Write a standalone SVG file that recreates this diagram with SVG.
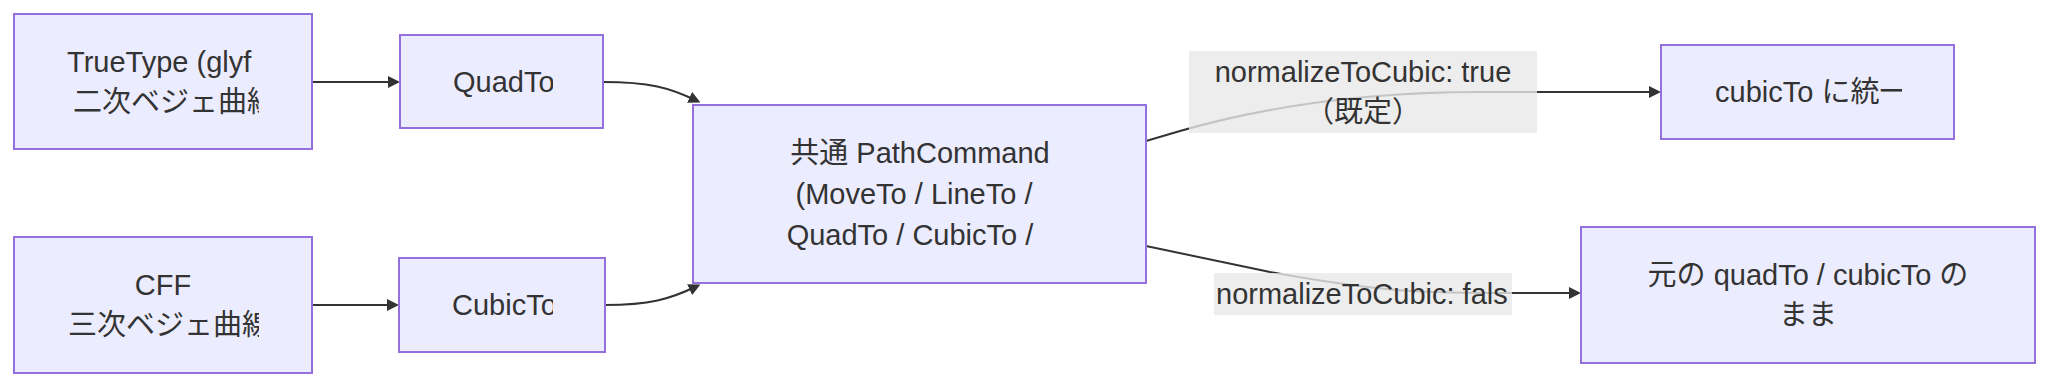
<svg xmlns="http://www.w3.org/2000/svg" width="2048" height="387" viewBox="0 0 2048 387">
<style>
.node rect{fill:#ECECFF;stroke:#9370DB;stroke-width:2}
text{font-family:"Liberation Sans","Noto Sans CJK JP",Arial,sans-serif;font-size:29px;fill:#333}
.mid{text-anchor:middle}
.edge{fill:none;stroke:#333;stroke-width:2}
.lbl rect{fill:#e8e8e8;fill-opacity:0.8}
</style>
<defs>
<marker id="arrow" viewBox="0 0 10 10" refX="5" refY="5" markerWidth="12" markerHeight="12" markerUnits="userSpaceOnUse" orient="auto">
<path d="M0,0 L10,5 L0,10 z" fill="#333"/>
</marker>
<clipPath id="cpTT"><rect x="67" y="40" width="192" height="90"/></clipPath>
<clipPath id="cpCFF"><rect x="67" y="262" width="192" height="90"/></clipPath>
<clipPath id="cpQ"><rect x="453" y="58" width="100" height="48"/></clipPath>
<clipPath id="cpC"><rect x="452" y="281" width="101" height="48"/></clipPath>
<clipPath id="cpU"><rect x="1715" y="68" width="187" height="48"/></clipPath>
<clipPath id="cpL2"><rect x="1214" y="273" width="298" height="42"/></clipPath>
</defs>
<g id="edges">
<path class="edge" d="M312,82 L394,82" marker-end="url(#arrow)"/>
<path class="edge" d="M312,305 L393,305" marker-end="url(#arrow)"/>
<path class="edge" d="M603,82 C650,82 670,88 695,100" marker-end="url(#arrow)"/>
<path class="edge" d="M605,305 C650,305 670,299 695,287" marker-end="url(#arrow)"/>
<path class="edge" d="M1146,141 L1180,131 C1260,108 1360,92 1480,92 L1655,92" marker-end="url(#arrow)"/>
<path class="edge" d="M1146,246 L1270,272 C1380,292 1420,293 1500,293 L1575,293" marker-end="url(#arrow)"/>
</g>
<g id="edge-labels">
<g id="label-true" class="lbl">
<rect x="1189" y="51" width="348" height="82"/>
<text class="mid" x="1363" y="82">normalizeToCubic: true</text>
<text class="mid" x="1363" y="122">（既定）</text>
</g>
<g id="label-false" class="lbl">
<rect x="1214" y="273" width="298" height="42"/>
<text x="1216" y="304" clip-path="url(#cpL2)">normalizeToCubic: fals</text>
</g>
</g>
<g id="node-truetype" class="node">
<rect x="14" y="14" width="298" height="135"/>
<g clip-path="url(#cpTT)">
<text x="67" y="72">TrueType (glyf</text>
<text x="73" y="112">二次ベジェ曲線</text>
</g>
</g>
<g id="node-cff" class="node">
<rect x="14" y="237" width="298" height="136"/>
<g clip-path="url(#cpCFF)">
<text class="mid" x="163" y="295">CFF</text>
<text x="68" y="335">三次ベジェ曲線</text>
</g>
</g>
<g id="node-quadto" class="node">
<rect x="400" y="35" width="203" height="93"/>
<text x="453" y="92" clip-path="url(#cpQ)">QuadTo</text>
</g>
<g id="node-cubicto" class="node">
<rect x="399" y="258" width="206" height="94"/>
<text x="452" y="315" clip-path="url(#cpC)">CubicTo</text>
</g>
<g id="node-common" class="node">
<rect x="693" y="105" width="453" height="178"/>
<text class="mid" x="920" y="163">共通 PathCommand</text>
<text class="mid" x="914" y="204">(MoveTo / LineTo /</text>
<text class="mid" x="910" y="245">QuadTo / CubicTo /</text>
</g>
<g id="node-unify" class="node">
<rect x="1661" y="45" width="293" height="94"/>
<text x="1715" y="102" clip-path="url(#cpU)">cubicTo に統一</text>
</g>
<g id="node-keep" class="node">
<rect x="1581" y="227" width="454" height="136"/>
<text class="mid" x="1808" y="285">元の quadTo / cubicTo の</text>
<text class="mid" x="1808" y="325">まま</text>
</g>
</svg>
